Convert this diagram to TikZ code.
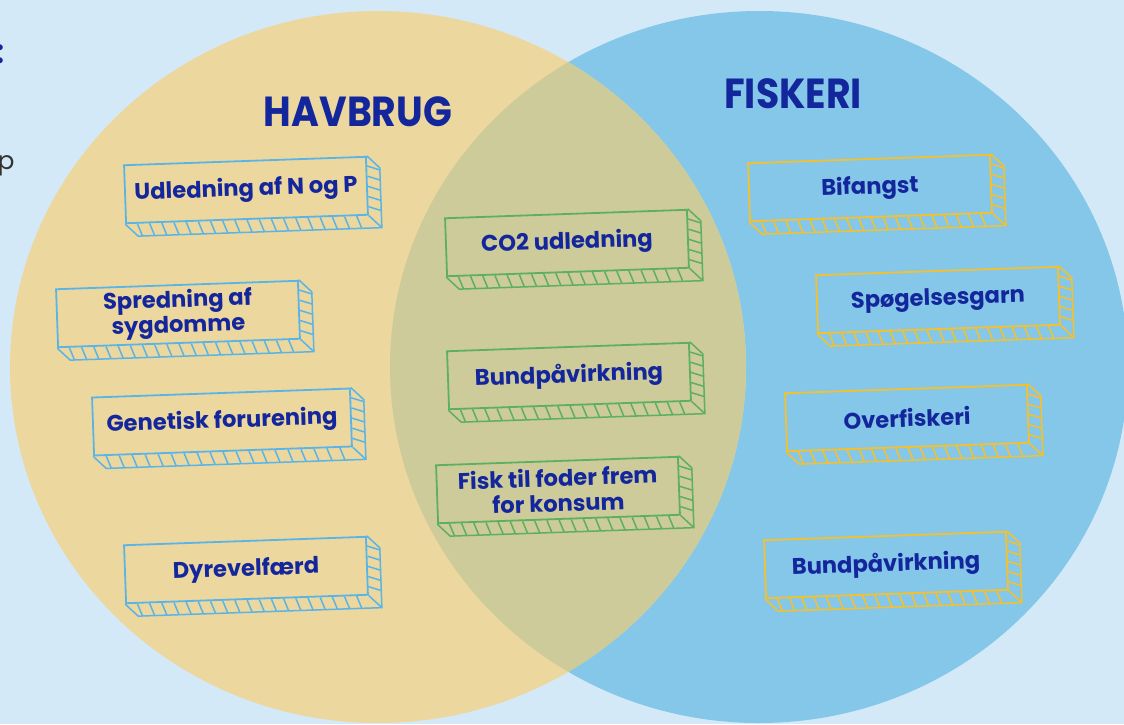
\documentclass[tikz,border=0pt]{standalone}
\usepackage{fontspec}
\setmainfont{Poppins}
\newfontfamily\titlefont{Poppins}[FakeStretch=0.9]
\usetikzlibrary{positioning,calc}

\definecolor{bgblue}{RGB}{212,233,248}
\definecolor{havfill}{RGB}{236,215,159}
\definecolor{fiskfill}{RGB}{133,199,232}
\definecolor{bothfill}{RGB}{205,203,153}
\definecolor{inkblue}{RGB}{20,38,156}
\definecolor{lineblue}{RGB}{90,180,230}
\definecolor{linegreen}{RGB}{92,176,94}
\definecolor{lineyellow}{RGB}{245,192,46}

\begin{document}
\begin{tikzpicture}[
  x=0.5pt, y=-0.5pt,
  title/.style={font=\titlefont\fontsize{21}{24}\selectfont\bfseries, text=inkblue, anchor=base, inner sep=0},
  card/.style={rectangle, draw, line width=0.9pt, minimum width=121pt, minimum height=29pt, align=center, rotate=2, inner sep=2pt, text=inkblue, font=\fontsize{11.3}{12.6}\selectfont\bfseries},
  havcard/.style={card, draw=lineblue},
  bothcard/.style={card, draw=linegreen},
  fiskcard/.style={card, draw=lineyellow},
  depth/.style={line width=0.75pt}
]

% canvas and the two circles
\useasboundingbox (0,0) rectangle (1124,724);
\fill[bgblue] (0,0) rectangle (1124,724);
\fill[fiskfill] (759,367) ellipse [x radius=184.5pt, y radius=178pt];
\fill[havfill] (378,367) ellipse [x radius=184pt, y radius=178pt];
\begin{scope}
  \clip (378,367) ellipse [x radius=184pt, y radius=178pt];
  \fill[bothfill] (759,367) ellipse [x radius=184.5pt, y radius=178pt];
\end{scope}

% cut-off text at the left edge
\node[anchor=base east, inner sep=0, text=inkblue, font=\fontsize{16}{16}\selectfont\bfseries] (colon) at (5,63) {:};
\node[anchor=base east, inner sep=0, text=black!80, font=\fontsize{12.5}{14}\selectfont] (cutp) at (15,169) {p};

\node[title] (havbrug) at (358,126) {HAVBRUG};
\node[title] (fiskeri) at (793,108) {FISKERI};

% havbrug
\node[havcard] (udled) at (246,190) {Udledning af N og P};
\node[havcard] (spred) at (178,314) {Spredning af\\sygdomme};
\node[havcard, minimum width=129pt] (genet) at (222,422) {Genetisk forurening};
\node[havcard] (dyrev) at (246,570) {Dyrevelfærd};

% begge
\node[bothcard] (co2) at (567,243) {CO2 udledning};
\node[bothcard] (bundA) at (569,376) {Bundpåvirkning};
\node[bothcard] (fisk) at (558,490) {Fisk til foder frem\\for konsum};

% fiskeri
\node[fiskcard] (bifang) at (870,188) {Bifangst};
\node[fiskcard] (spoeg) at (938,300) {Spøgelsesgarn};
\node[fiskcard] (overf) at (907,418) {Overfiskeri};
\node[fiskcard] (bundB) at (886,565) {Bundpåvirkning};

% 3d depth on every card
\foreach \b/\c in {udled/lineblue, spred/lineblue, genet/lineblue, dyrev/lineblue,
                   co2/linegreen, bundA/linegreen, fisk/linegreen,
                   bifang/lineyellow, spoeg/lineyellow, overf/lineyellow, bundB/lineyellow}{
  \draw[depth, draw=\c] (\b.north east) -- ++(13,12) -- ($(\b.south east)+(13,12)$)
    -- ($(\b.south west)+(13,12)$) -- (\b.south west);
  \draw[depth, draw=\c] (\b.south east) -- ++(13,12);
  \foreach \t in {0.05,0.1,...,0.96}
    \draw[depth, draw=\c] ($(\b.south west)!\t!(\b.south east)$) -- ++(5,12);
  \foreach \s in {0.17,0.34,...,0.9}
    \draw[depth, draw=\c] ($(\b.north east)!\s!(\b.south east)$) -- ++(13,4);
}

\end{tikzpicture}
\end{document}
